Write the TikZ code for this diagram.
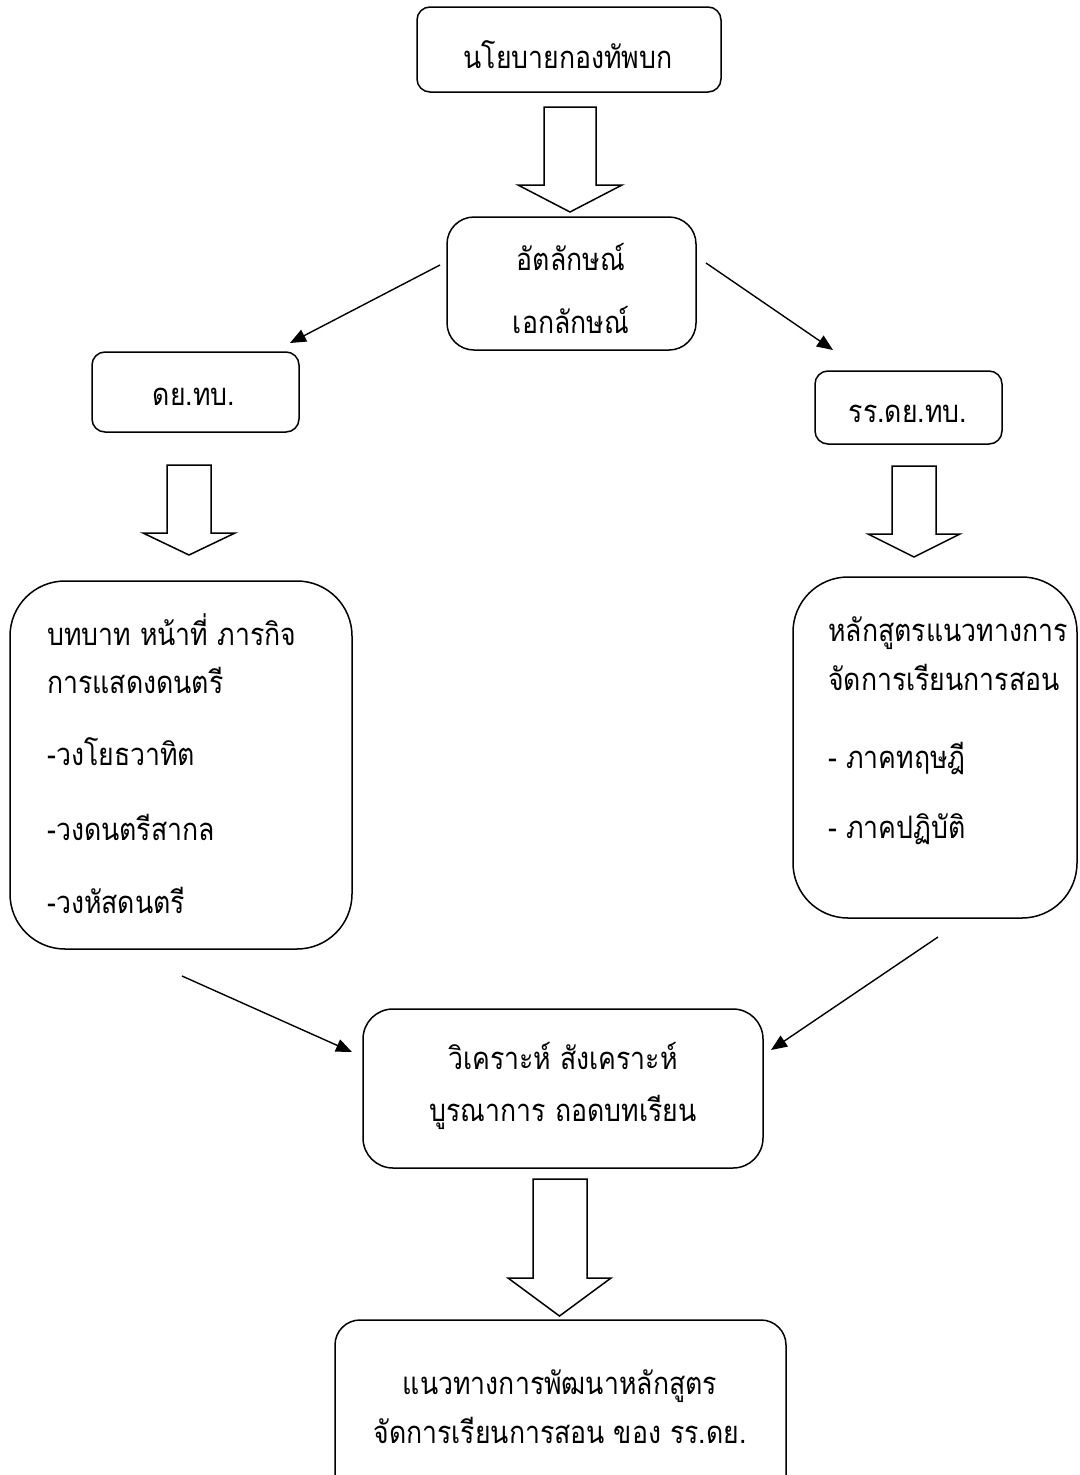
\documentclass[tikz,border=0pt]{standalone}
\usepackage{fontspec}
\newfontfamily\thaifont[Script=Thai,FakeStretch=0.86]{Loma}
\usetikzlibrary{arrows.meta}
\tikzset{
  box/.style={draw, line width=1.5pt, rounded corners=#1, inner sep=0pt},
  box/.default=13pt,
  txt/.style={inner sep=0pt, font=\thaifont\fontsize{31}{36}\selectfont},
  conn/.style={line width=1.4pt, -{Triangle[length=16pt,width=13pt]}},
  blkarr/.style={draw, line width=1.5pt, fill=white, line join=miter}
}
\newcommand\blkarrow[7]{%
  \draw[blkarr] (#1,#3) -- (#2,#3) -- (#2,#4) -- (#6,#4) -- ({(#5+#6)/2},#7) -- (#5,#4) -- (#1,#4) -- cycle;}
\begin{document}
\begin{tikzpicture}[x=1pt,y=-1pt]
\useasboundingbox (0,0) rectangle (1079,1475);
% boxes
\node[box=13pt, minimum width=304pt, minimum height=85pt] (b1) at (569,49.5) {};
\node[box=27pt, minimum width=249pt, minimum height=133pt] (b2) at (571.5,283.5) {};
\node[box=13pt, minimum width=207pt, minimum height=80pt] (b3) at (195.5,392) {};
\node[box=13pt, minimum width=187pt, minimum height=73pt] (b4) at (908.5,407.5) {};
\node[box=55pt, minimum width=342pt, minimum height=368pt] (b5) at (181,765) {};
\node[box=55pt, minimum width=284pt, minimum height=341pt] (b6) at (935,747.5) {};
\node[box=30pt, minimum width=400pt, minimum height=159pt] (b7) at (563,1088.5) {};
\node[box=25pt, minimum width=451pt, minimum height=180pt] (b8) at (560.5,1410) {};
% texts
\node[txt, anchor=base] (t1) at (568,68) {นโยบายกองทัพบก};
\node[txt, anchor=base] (t2a) at (571,270) {อัตลักษณ์};
\node[txt, anchor=base] (t2b) at (571,333) {เอกลักษณ์};
\node[txt, anchor=base] (t3) at (194,405) {ดย.ทบ.};
\node[txt, anchor=base] (t4) at (908,422) {รร.ดย.ทบ.};
\node[txt, anchor=base west] (t5a) at (47,645) {บทบาท หน้าที่ ภารกิจ};
\node[txt, anchor=base west] (t5b) at (47,693) {การแสดงดนตรี};
\node[txt, anchor=base west] (t5c) at (47,765) {-วงโยธวาทิต};
\node[txt, anchor=base west] (t5d) at (47,840) {-วงดนตรีสากล};
\node[txt, anchor=base west] (t5e) at (47,913) {-วงหัสดนตรี};
\node[txt, anchor=base west] (t6a) at (828,641) {หลักสูตรแนวทางการ};
\node[txt, anchor=base west] (t6b) at (828,690) {จัดการเรียนการสอน};
\node[txt, anchor=base west] (t6c) at (828,768) {- ภาคทฤษฎี};
\node[txt, anchor=base west] (t6d) at (828,838) {- ภาคปฏิบัติ};
\node[txt, anchor=base] (t7a) at (563,1069) {วิเคราะห์ สังเคราะห์};
\node[txt, anchor=base] (t7b) at (563,1121) {บูรณาการ ถอดบทเรียน};
\node[txt, anchor=base] (t8a) at (560,1394) {แนวทางการพัฒนาหลักสูตร};
\node[txt, anchor=base] (t8b) at (560,1443) {จัดการเรียนการสอน ของ รร.ดย.};
% block arrows
\blkarrow{544}{596}{107}{185}{518}{622}{212}
\blkarrow{167}{211}{465}{533}{143}{235}{555}
\blkarrow{892}{936}{466}{534}{868}{960}{557}
\blkarrow{533}{587}{1179}{1278}{508}{611}{1316}
% connectors
\coordinate (c1s) at (440,265); \coordinate (c1e) at (290,343);
\coordinate (c2s) at (706,263); \coordinate (c2e) at (833,350);
\coordinate (c3s) at (182,976); \coordinate (c3e) at (352,1052);
\coordinate (c4s) at (938,937); \coordinate (c4e) at (771,1050);
\draw[conn] (c1s) -- (c1e);
\draw[conn] (c2s) -- (c2e);
\draw[conn] (c3s) -- (c3e);
\draw[conn] (c4s) -- (c4e);
\end{tikzpicture}
\end{document}
